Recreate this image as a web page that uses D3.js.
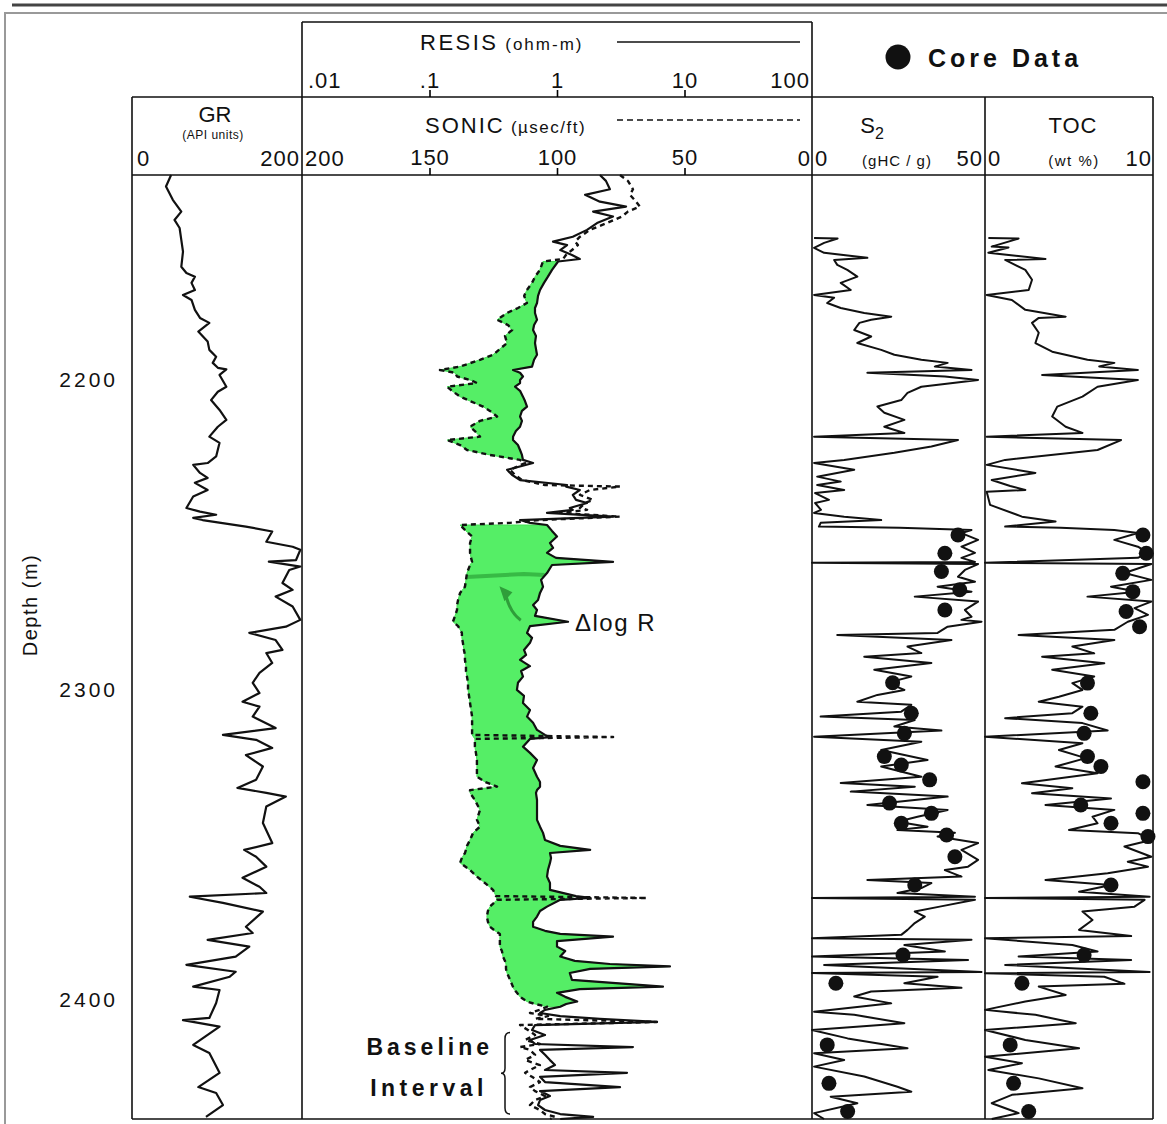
<!DOCTYPE html>
<html>
  <head>
    <title>Delta log R</title>
    <meta charset="UTF-8" />
    <style>
      body { margin: 0; background: #fff; }
      text { font-family: "Liberation Sans", Arial, sans-serif; fill: #111; }
    </style>
  </head>
  <body>
    <script src="https://cdn.jsdelivr.net/npm/d3@7/dist/d3.min.js"></script>
    <script>
      // gamma ray: [depth m, API]
      var grLog = [
        [2133.9,46],[2137.6,40],[2141.9,48],[2145.7,58],[2148.4,50],[2151.0,56],[2154.8,58],[2158.6,60],[2163.5,58],[2165.5,64],
        [2166.7,74],[2168.7,70],[2171.0,74],[2172.6,60],[2174.2,70],[2177.4,74],[2180.0,80],[2181.6,91],[2184.4,78],[2187.6,89],
        [2190.3,91],[2192.5,99],[2194.5,95],[2196.1,101],[2196.6,111],[2198.4,103],[2202.2,111],[2203.8,101],[2206.5,93],[2209.7,103],
        [2212.9,111],[2215.1,101],[2218.3,91],[2220.3,103],[2224.7,99],[2226.8,89],[2227.4,72],[2230.0,80],[2231.6,89],[2233.2,74],
        [2235.5,89],[2237.6,72],[2241.3,64],[2242.5,80],[2243.5,99],[2244.5,72],[2245.2,83],[2247.3,134],[2248.9,165],[2252.2,158],
        [2253.8,189],[2254.8,198],[2258.1,193],[2258.6,161],[2260.2,198],[2261.3,185],[2265.5,177],[2267.7,189],[2269.9,169],[2273.1,189],
        [2277.4,198],[2279.6,181],[2281.6,138],[2283.9,169],[2287.1,177],[2288.1,158],[2291.3,165],[2294.5,150],[2297.7,142],[2301.0,150],
        [2303.8,130],[2305.4,150],[2308.6,142],[2312.3,169],[2314.5,107],[2316.1,146],[2318.7,165],[2321.0,134],[2324.7,154],[2329.0,146],
        [2331.6,124],[2333.2,158],[2334.4,181],[2337.6,158],[2342.9,154],[2349.4,165],[2351.6,132],[2353.8,146],[2357.0,158],[2360.6,130],
        [2363.5,150],[2365.5,158],[2366.7,68],[2368.7,107],[2371.5,154],[2376.4,134],[2378.4,142],[2380.6,89],[2382.8,138],[2386.0,122],
        [2388.7,64],[2390.9,122],[2392.5,115],[2395.7,72],[2396.8,103],[2401.0,99],[2405.8,91],[2406.5,60],[2408.6,103],[2414.5,72],
        [2417.1,91],[2423.5,103],[2428.1,78],[2430.0,99],[2433.9,107],[2437.7,87]
      ];

      // sonic and resistivity: [depth m, sonic usec/ft, resistivity ohm-m]
      var sonicResis = [
        [2133.9,75.3,2.17],[2135.8,72.2,2.42],[2138.5,70.2,2.60],[2140.3,71.4,1.66],[2142.5,69.0,2.17],[2144.1,67.5,3.48],
        [2145.7,72.2,1.92],[2147.3,74.5,2.75],[2149.4,80.4,2.06],[2151.6,87.1,1.72],[2153.8,91.0,1.33],[2155.4,92.9,0.931],
        [2156.5,91.8,1.20],[2158.1,94.1,1.06],[2159.7,96.5,1.31],[2161.0,97.6,1.51],[2161.8,105.5,1.02],[2164.5,106.7,0.914],
        [2166.7,108.6,0.849],[2168.7,109.8,0.791],[2171.0,111.8,0.736],[2172.9,112.9,0.710],[2175.2,111.8,0.697],[2176.8,115.3,0.672],
        [2178.4,119.6,0.672],[2180.6,123.5,0.697],[2182.3,119.2,0.661],[2183.9,117.6,0.649],[2185.8,120.4,0.684],[2188.1,119.6,0.672],
        [2190.0,122.4,0.684],[2191.9,125.1,0.697],[2193.5,130.2,0.661],[2195.7,138.0,0.637],[2196.8,145.9,0.452],[2197.7,140.0,0.513],
        [2198.9,139.2,0.541],[2200.0,134.1,0.513],[2201.0,131.4,0.513],[2202.2,143.1,0.469],[2203.5,141.2,0.513],[2205.4,138.0,0.541],
        [2206.8,134.1,0.561],[2208.6,129.0,0.582],[2210.0,126.3,0.531],[2211.8,123.5,0.513],[2213.2,130.2,0.531],[2215.1,134.1,0.513],
        [2216.5,132.2,0.476],[2218.3,130.2,0.452],[2219.4,143.1,0.452],[2221.0,138.0,0.494],[2222.6,135.3,0.513],[2224.2,126.3,0.531],
        [2225.8,114.5,0.541],[2226.8,112.5,0.649],[2229.0,118.4,0.406],[2230.6,116.5,0.443],[2232.3,113.7,0.513],[2233.9,104.7,1.20],
        [2234.4,75.3,1.18],[2235.5,87.1,1.51],[2237.1,91.0,1.33],[2238.7,85.9,1.41],[2239.7,89.0,1.72],[2241.3,91.0,1.26],
        [2241.9,88.2,1.33],[2242.9,98.8,0.835],[2244.1,75.3,2.75],[2245.2,106.7,0.513],[2246.1,118.4,0.614],[2246.8,138.0,0.835],
        [2248.7,135.7,0.914],[2250.5,133.3,1.00],[2252.6,134.1,0.881],[2254.2,134.1,0.931],[2255.8,134.1,0.835],[2257.4,133.7,0.982],
        [2258.7,133.3,2.75],[2259.7,134.1,0.914],[2262.3,135.3,0.835],[2264.5,135.7,0.750],[2266.7,136.1,0.777],[2268.7,138.0,0.736],
        [2271.0,138.8,0.710],[2272.6,139.2,0.649],[2274.2,139.2,0.697],[2276.1,140.0,0.672],[2278.0,140.8,1.22],[2279.4,138.8,0.614],
        [2281.6,137.3,0.582],[2283.2,137.3,0.637],[2284.8,136.9,0.614],[2287.1,136.5,0.551],[2288.7,136.1,0.572],[2290.3,136.1,0.513],
        [2292.3,135.7,0.614],[2293.9,135.7,0.523],[2295.7,135.3,0.541],[2297.7,134.9,0.494],[2300.0,134.9,0.485],[2301.9,134.5,0.551],
        [2304.2,134.1,0.541],[2306.5,133.7,0.614],[2308.6,133.3,0.582],[2310.6,133.3,0.649],[2312.9,133.3,0.697],[2314.5,133.3,0.805],
        [2315.2,78.0,0.881],[2315.8,132.2,0.614],[2318.3,132.2,0.541],[2320.3,131.8,0.614],[2322.6,131.4,0.697],[2325.2,131.4,0.649],
        [2328.0,131.4,0.697],[2329.7,128.2,0.736],[2331.2,123.5,0.736],[2332.3,134.1,0.697],[2333.2,134.1,0.684],[2335.5,132.2,0.697],
        [2338.7,130.2,0.697],[2341.9,131.4,0.697],[2344.1,130.2,0.736],[2346.1,132.9,0.777],[2348.4,134.1,0.805],[2350.3,135.3,1.06],
        [2351.6,135.7,1.82],[2352.6,136.1,0.881],[2354.2,137.3,0.898],[2355.8,138.0,0.881],[2358.1,134.1,0.849],[2360.2,131.4,0.835],
        [2362.3,128.2,0.881],[2364.5,125.1,0.881],[2366.5,123.9,1.41],[2367.1,64.7,1.82],[2367.7,123.5,1.06],[2369.9,126.3,0.835],
        [2371.3,127.1,0.736],[2373.1,127.5,0.697],[2374.8,127.1,0.649],[2376.4,126.3,0.649],[2377.7,124.3,0.805],[2378.7,122.4,1.06],
        [2379.6,122.4,2.75],[2381.0,122.4,1.00],[2382.8,122.4,1.00],[2384.2,121.6,1.16],[2386.0,121.2,1.06],[2387.4,120.4,1.38],
        [2388.4,120.0,2.60],[2389.2,120.0,7.69],[2390.0,120.0,1.82],[2391.3,119.6,1.26],[2393.5,118.4,1.31],[2395.7,117.3,6.78],
        [2396.5,116.9,1.51],[2397.7,115.7,1.00],[2399.0,114.5,1.16],[2400.5,111.8,1.44],[2401.3,108.6,1.18],[2402.2,103.9,1.06],
        [2403.2,106.7,0.805],[2404.2,110.6,0.736],[2405.2,103.5,1.06],[2406.1,108.6,2.17],[2407.1,60.8,6.08],[2408.1,114.5,0.672],
        [2409.7,111.4,0.637],[2411.3,108.6,0.805],[2412.9,112.5,0.614],[2414.2,106.7,0.672],[2415.2,114.5,3.94],[2416.1,110.6,0.736],
        [2417.7,108.6,0.805],[2419.4,112.5,0.881],[2421.0,106.7,0.964],[2422.6,110.6,0.805],[2423.5,112.5,3.54],[2424.8,109.8,0.736],
        [2426.5,106.7,0.805],[2428.1,110.6,3.12],[2429.4,108.6,0.736],[2431.0,104.7,0.881],[2432.3,108.6,0.736],[2433.9,110.6,0.710],
        [2435.5,106.7,0.805],[2436.8,104.7,1.06],[2437.7,100.8,1.92],[2438.4,102.7,1.06]
      ];

      // intervals shaded as delta log R separation
      var deltaLogRZones = [[2161.8, 2225.8], [2246.8, 2402.2]];

      // S2 log: [depth m, gHC/g]
      var s2Log = [
        [2154.2,0.6],[2154.4,7.4],[2155.8,3.5],[2157.4,0.6],[2159.0,3.5],[2160.6,16.0],[2161.3,6.4],[2162.9,7.3],[2164.5,10.2],[2166.7,13.1],
        [2168.7,8.3],[2171.0,11.2],[2172.6,0.6],[2173.5,6.4],[2175.2,4.4],[2176.8,8.3],[2178.4,15.1],[2179.6,22.9],[2180.6,17.1],[2181.6,13.7],
        [2183.9,12.2],[2186.0,17.1],[2188.1,13.1],[2190.3,20.0],[2191.9,23.8],[2193.5,31.6],[2194.5,39.2],[2195.7,35.5],[2196.8,46.1],[2197.7,16.0],
        [2198.9,38.4],[2200.0,48.0],[2202.2,31.6],[2204.2,27.6],[2206.5,25.8],[2208.6,18.9],[2210.6,20.9],[2212.9,26.7],[2215.1,20.9],[2217.1,26.7],
        [2218.3,0.6],[2219.4,42.2],[2221.5,34.5],[2223.5,23.8],[2225.8,9.3],[2226.8,0.6],[2229.0,12.2],[2231.2,1.5],[2232.8,8.3],[2233.9,1.5],
        [2235.5,9.3],[2236.5,0.9],[2238.7,4.9],[2239.7,0.9],[2241.9,2.6],[2242.9,0.6],[2244.1,9.3],[2245.2,20.0],[2246.1,2.5],[2247.3,2.0],
        [2247.7,25.3],[2248.4,46.1],[2249.4,43.2],[2251.6,48.0],[2253.8,43.2],[2255.8,47.1],[2257.4,43.2],[2258.7,47.1],[2259.0,0],[2259.4,48.0],
        [2261.3,44.2],[2263.5,42.2],[2265.1,47.1],[2266.7,36.3],[2268.3,46.1],[2269.9,29.7],[2271.5,48.0],[2274.2,44.2],[2276.4,46.1],[2277.4,43.2],
        [2278.0,49.0],[2279.6,39.2],[2281.6,36.3],[2282.3,7.3],[2283.9,40.3],[2286.0,27.6],[2288.1,31.6],[2289.3,15.1],[2291.3,34.5],[2293.5,18.0],
        [2295.7,28.7],[2297.7,21.8],[2300.0,26.7],[2301.6,18.9],[2303.8,13.1],[2304.8,28.7],[2307.0,25.8],[2308.6,2.5],[2309.7,29.7],[2311.8,23.8],
        [2313.1,37.4],[2315.1,0.6],[2316.7,31.6],[2319.4,20.0],[2322.6,33.4],[2324.7,20.0],[2328.0,31.6],[2330.0,8.3],[2331.2,29.7],[2332.8,11.2],
        [2334.4,39.2],[2337.1,16.0],[2338.7,39.2],[2340.9,30.5],[2342.5,24.7],[2344.1,33.4],[2345.2,24.7],[2346.1,41.3],[2347.3,36.3],[2349.4,48.0],
        [2351.6,43.2],[2354.8,48.0],[2357.0,45.1],[2358.1,38.4],[2360.2,43.2],[2361.3,16.0],[2362.3,34.5],[2363.9,31.6],[2365.5,24.7],[2366.7,47.1],
        [2367.1,0],[2367.7,47.1],[2369.9,36.9],[2371.5,29.7],[2373.1,32.6],[2375.2,29.7],[2377.4,27.6],[2379.0,25.8],[2380.1,0],[2380.6,46.1],
        [2382.3,26.7],[2384.4,38.4],[2386.0,0],[2387.1,45.1],[2388.7,3.5],[2391.0,49.0],[2391.3,0],[2392.5,36.3],[2394.6,26.7],[2396.1,43.2],
        [2397.3,17.1],[2398.9,12.2],[2401.1,22.9],[2403.8,0.6],[2404.8,12.2],[2407.5,26.7],[2409.7,0],[2412.4,10.3],[2415.6,27.6],[2417.2,0.6],
        [2419.4,9.3],[2421.5,0.6],[2424.7,15.1],[2428.0,24.7],[2429.6,28.7],[2431.2,5.4],[2433.3,13.1],[2436.5,0.6],[2438.4,3.5]
      ];

      // TOC log: [depth m, wt %]
      var tocLog = [
        [2154.2,0.2],[2154.4,2.0],[2157.0,0.4],[2157.3,1.4],[2159.0,0.2],[2161.0,3.6],[2161.3,1.2],[2164.5,2.4],[2167.7,2.8],[2171.0,2.6],
        [2172.6,0.1],[2174.2,1.6],[2177.4,2.4],[2179.6,4.8],[2180.0,3.2],[2181.6,2.8],[2184.8,3.2],[2188.1,3.0],[2190.9,4.0],[2193.5,6.1],
        [2194.5,7.7],[2195.7,6.8],[2196.8,9.1],[2198.4,3.4],[2200.0,9.1],[2202.2,6.7],[2205.4,5.8],[2208.6,4.3],[2211.8,4.0],[2215.1,4.8],
        [2217.1,5.8],[2218.3,0.1],[2219.4,8.1],[2222.6,6.7],[2225.8,1.2],[2227.4,0.1],[2230.0,3.0],[2232.3,0.4],[2234.2,1.5],[2235.5,2.4],
        [2236.1,0.1],[2240.3,0.3],[2244.1,2.2],[2245.7,4.2],[2247.3,1.2],[2247.7,4.5],[2248.4,7.7],[2249.4,9.1],[2251.6,7.7],[2253.8,9.1],
        [2255.8,9.7],[2257.4,9.1],[2259.0,0],[2259.4,9.9],[2262.3,8.3],[2264.5,9.9],[2266.7,7.5],[2268.3,9.1],[2269.9,6.1],[2271.5,9.9],
        [2273.6,8.9],[2275.8,9.7],[2278.0,8.5],[2280.6,7.7],[2282.3,2.0],[2283.9,7.7],[2286.0,5.2],[2288.2,6.5],[2289.3,3.4],[2291.4,7.1],
        [2293.5,4.0],[2295.7,6.5],[2297.8,5.2],[2300.0,5.8],[2302.2,4.4],[2303.8,3.2],[2305.4,5.8],[2307.5,5.2],[2309.1,1.2],[2310.7,5.8],
        [2313.1,7.3],[2315.1,0],[2317.2,5.8],[2319.4,4.4],[2322.0,6.0],[2324.7,4.2],[2326.9,6.7],[2330.1,2.2],[2331.7,5.2],[2333.3,2.8],
        [2335.0,7.5],[2337.1,3.6],[2338.7,7.7],[2340.9,6.4],[2343.0,6.7],[2345.2,5.0],[2346.2,9.1],[2348.4,9.9],[2350.5,8.3],[2353.8,9.9],
        [2355.4,8.5],[2357.0,9.7],[2359.1,7.3],[2361.3,3.6],[2362.9,7.5],[2365.1,5.6],[2366.7,9.8],[2367.1,0],[2367.7,9.5],[2369.9,8.9],
        [2371.5,5.8],[2374.2,6.4],[2377.4,5.6],[2379.4,8.7],[2380.1,0],[2382.3,5.2],[2384.4,6.7],[2386.0,2.0],[2387.1,8.7],[2388.7,1.2],
        [2391.0,9.8],[2391.4,0],[2392.5,7.1],[2394.8,8.3],[2395.7,3.2],[2398.4,4.8],[2400.5,2.4],[2403.2,0],[2404.8,3.0],[2407.5,5.4],
        [2409.7,0],[2412.9,2.4],[2415.6,5.6],[2418.3,0],[2420.4,2.2],[2422.6,0.2],[2425.3,3.2],[2428.5,5.8],[2430.6,1.6],[2433.3,0.4],
        [2436.5,2.0],[2438.4,0.4]
      ];

      // core measurements
      var coreS2 = [
        [2250.0,42.2],[2255.9,38.4],[2261.8,37.4],[2267.7,42.7],[2274.2,38.4],[2297.7,23.3],[2307.5,28.7],[2314.0,26.7],
        [2321.5,20.9],[2324.2,25.8],[2329.0,34.0],[2336.5,22.4],[2339.8,34.5],[2343.0,25.8],[2346.8,38.9],[2353.8,41.3],
        [2362.9,29.7],[2385.5,26.3],[2394.6,6.9],[2414.5,4.4],[2426.9,4.9],[2436.0,10.3]
      ];
      var coreToc = [
        [2250.0,9.4],[2255.9,9.6],[2262.4,8.2],[2268.3,8.8],[2274.7,8.4],[2279.6,9.2],[2297.8,6.1],[2307.5,6.3],
        [2314.0,5.9],[2321.5,6.1],[2324.7,6.9],[2329.6,9.4],[2337.1,5.7],[2339.8,9.4],[2343.0,7.5],[2347.3,9.7],
        [2362.9,7.5],[2385.5,5.9],[2394.6,2.2],[2414.5,1.5],[2426.9,1.7],[2436.0,2.6]
      ];

      var depthTicks = [2200, 2300, 2400];
      var sonicTicks = [150, 100, 50];
      var resisTicks = [0.1, 1, 10];

      var svg = d3.select("body").append("svg")
        .attr("width", 1167)
        .attr("height", 1124);

      var plotTop = 175, plotBottom = 1119;
      var depth = d3.scaleLinear().domain([2133.9, 2438.4]).range([plotTop, plotBottom]);
      var gr = d3.scaleLinear().domain([0, 200]).range([132, 302]);
      var sonic = d3.scaleLinear().domain([200, 0]).range([302, 812]);
      var resis = d3.scaleLog().domain([0.01, 100]).range([302, 812]);
      var s2 = d3.scaleLinear().domain([0, 50]).range([812, 985]);
      var toc = d3.scaleLinear().domain([0, 10]).range([985, 1153]);

      // page rules
      svg.append("line").attr("x1", 12).attr("x2", 1167).attr("y1", 5).attr("y2", 5)
        .style("stroke", "#444").style("stroke-width", 3);
      svg.append("path").attr("d", "M1167,13H5V1124")
        .style("fill", "none").style("stroke", "#999").style("stroke-width", 2);

      // delta log R shading (rows where sonic spikes past resistivity are skipped)
      var fill = svg.append("g");
      deltaLogRZones.forEach(function(z) {
        var rows = sonicResis.filter(function(d) {
          return d[0] >= z[0] && d[0] <= z[1] && resis(d[2]) >= sonic(d[1]);
        });
        fill.append("path")
          .datum(rows)
          .attr("d", d3.area()
            .y(function(d) { return depth(d[0]); })
            .x0(function(d) { return sonic(d[1]); })
            .x1(function(d) { return resis(d[2]); }))
          .style("fill", "#55ee66")
          .style("stroke", "#44dd55")
          .style("stroke-width", 1);
      });

      // arrow inside shading
      var arrowFrom = [2277.5, 0.52], arrowTo = [2267.5, 0.38];
      var a0x = resis(arrowFrom[1]), a0y = depth(arrowFrom[0]);
      var ax = resis(arrowTo[1]), ay = depth(arrowTo[0]);
      svg.append("path")
        .attr("d", "M" + a0x + "," + a0y + "Q" + (ax + 6) + "," + (a0y - 8) + " " + (ax + 2) + "," + (ay + 4))
        .style("fill", "none").style("stroke", "#2f9e3a").style("stroke-width", 3);
      svg.append("path")
        .attr("d", "M" + (ax - 4) + "," + (ay - 3) + "L" + (ax + 9) + "," + (ay + 3) + "L" + (ax + 1) + "," + (ay + 12) + "Z")
        .style("fill", "#2f9e3a");
      svg.append("path")
        .attr("d", "M" + sonic(135.5) + "," + depth(2263.6) + "L" + resis(0.55) + "," + depth(2262.6) +
          "L" + resis(0.8) + "," + depth(2262.9))
        .style("fill", "none").style("stroke", "#33b03f").style("stroke-width", 4).style("opacity", 0.85);

      function curve(data, xs, xi) {
        return d3.line()
          .x(function(d) { return xs(d[xi]); })
          .y(function(d) { return depth(d[0]); })(data);
      }

      var curves = svg.append("g").style("fill", "none").style("stroke", "#111")
        .style("stroke-linejoin", "round");

      curves.append("path").attr("d", curve(grLog, gr, 1)).style("stroke-width", 2.2);
      curves.append("path").attr("d", curve(sonicResis, resis, 2)).style("stroke-width", 2.2);
      curves.append("path").attr("d", curve(sonicResis, sonic, 1)).style("stroke-width", 2.4)
        .style("stroke-dasharray", "5,4");
      curves.append("path").attr("d", curve(s2Log, s2, 1)).style("stroke-width", 2);
      curves.append("path").attr("d", curve(tocLog, toc, 1)).style("stroke-width", 2);

      // core data
      var dots = svg.append("g").style("fill", "#111");
      dots.selectAll(".s2core").data(coreS2).enter().append("circle")
        .attr("cx", function(d) { return s2(d[1]); })
        .attr("cy", function(d) { return depth(d[0]); })
        .attr("r", 7.5);
      dots.selectAll(".toccore").data(coreToc).enter().append("circle")
        .attr("cx", function(d) { return toc(d[1]); })
        .attr("cy", function(d) { return depth(d[0]); })
        .attr("r", 7.5);

      // track frames
      var frame = svg.append("g").style("stroke", "#111").style("stroke-width", 1.6).style("fill", "none");
      frame.append("path").attr("d",
        "M302,22H812" +
        "M132,97H1153" +
        "M132,175H1153" +
        "M132,1119H1153" +
        "M132,97V1119" +
        "M302,22V1119" +
        "M812,22V1119" +
        "M985,97V1119" +
        "M1153,97V1119");

      var axisFont = "Liberation Sans, Arial, sans-serif";

      // axes
      var sonicAxis = svg.append("g").attr("transform", "translate(0,175)")
        .call(d3.axisTop(sonic).tickValues(sonicTicks).tickSize(7).tickPadding(3));
      var resisAxis = svg.append("g").attr("transform", "translate(0,97)")
        .call(d3.axisTop(resis).tickValues(resisTicks).tickSize(7).tickPadding(2)
          .tickFormat(function(d) { return d < 1 ? ".1" : String(d); }));
      [sonicAxis, resisAxis].forEach(function(a) {
        a.select(".domain").remove();
        a.selectAll("line").style("stroke-width", 1.6);
        a.selectAll("text").style("font-size", "22px").style("letter-spacing", "1px")
          .style("font-family", axisFont).style("fill", "#111");
      });

      var depthAxis = svg.append("g").attr("transform", "translate(132,0)")
        .call(d3.axisLeft(depth).tickValues(depthTicks).tickSize(0).tickPadding(14)
          .tickFormat(d3.format("d")));
      depthAxis.select(".domain").remove();
      depthAxis.selectAll("text").style("font-size", "21px").style("letter-spacing", "3px")
        .style("font-family", axisFont).style("fill", "#111");

      function label(x, y, txt, size, anchor) {
        return svg.append("text").attr("x", x).attr("y", y).text(txt)
          .style("font-size", size + "px").style("text-anchor", anchor || "middle");
      }

      // end labels
      label(137, 166, "0", 22, "start");
      label(300, 166, "200", 22, "end").style("letter-spacing", "1px");
      label(305, 166, "200", 22, "start").style("letter-spacing", "1px");
      label(810, 166, "0", 22, "end");
      label(815, 166, "0", 22, "start");
      label(983, 166, "50", 22, "end").style("letter-spacing", "1px");
      label(988, 166, "0", 22, "start");
      label(1152, 166, "10", 22, "end").style("letter-spacing", "1px");
      label(308, 88, ".01", 22, "start").style("letter-spacing", "1px");
      label(810, 88, "100", 22, "end").style("letter-spacing", "1px");

      // headers
      var rt = svg.append("text").attr("x", 420).attr("y", 50);
      rt.append("tspan").text("RESIS").style("font-size", "22px").style("letter-spacing", "2.5px");
      rt.append("tspan").text(" (ohm-m)").style("font-size", "17px").style("letter-spacing", "2px");
      svg.append("line").attr("x1", 617).attr("x2", 800).attr("y1", 42).attr("y2", 42)
        .style("stroke", "#111").style("stroke-width", 1.5);

      var st = svg.append("text").attr("x", 425).attr("y", 133);
      st.append("tspan").text("SONIC").style("font-size", "22px").style("letter-spacing", "2px");
      st.append("tspan").text(" (µsec/ft)").style("font-size", "17px").style("letter-spacing", "1.5px");
      svg.append("line").attr("x1", 617).attr("x2", 800).attr("y1", 120).attr("y2", 120)
        .style("stroke", "#111").style("stroke-width", 1.5).style("stroke-dasharray", "6,4");

      label(215, 122, "GR", 22);
      label(213, 139, "(API units)", 12).style("letter-spacing", "0.5px");

      var s2t = svg.append("text").attr("x", 872).attr("y", 133).style("text-anchor", "middle");
      s2t.append("tspan").text("S").style("font-size", "22px");
      s2t.append("tspan").text("2").attr("dy", 6).style("font-size", "16px");
      label(897, 166, "(gHC / g)", 15).style("letter-spacing", "1px");
      label(1073, 133, "TOC", 22).style("letter-spacing", "1px");
      label(1074, 166, "(wt  %)", 15).style("letter-spacing", "1.5px");

      // core data legend
      svg.append("circle").attr("cx", 898).attr("cy", 57).attr("r", 12.5).style("fill", "#111");
      label(928, 67, "Core Data", 25, "start").style("font-weight", "bold").style("letter-spacing", "4px");

      // depth title
      svg.append("text").attr("transform", "translate(37,605) rotate(-90)")
        .style("text-anchor", "middle").style("font-size", "20px").style("letter-spacing", "1.5px")
        .text("Depth (m)");

      // annotations
      label(575, 631, "\u0394log  R", 24, "start").style("letter-spacing", "1.5px");
      label(493, 1055, "Baseline", 23, "end").style("font-weight", "bold").style("letter-spacing", "4px");
      label(488, 1096, "Interval", 23, "end").style("font-weight", "bold").style("letter-spacing", "4.5px");
      var bx = 505, b0 = depth(2410.5), b1 = depth(2436.8), bm = (b0 + b1) / 2;
      svg.append("path")
        .attr("d", "M" + (bx + 5) + "," + b0 + "Q" + bx + "," + b0 + " " + bx + "," + (b0 + 6) +
          "V" + (bm - 5) + "Q" + bx + "," + bm + " " + (bx - 4) + "," + bm +
          "Q" + bx + "," + bm + " " + bx + "," + (bm + 5) +
          "V" + (b1 - 6) + "Q" + bx + "," + b1 + " " + (bx + 5) + "," + b1)
        .style("fill", "none").style("stroke", "#111").style("stroke-width", 1.5);
    </script>
  </body>
</html>
